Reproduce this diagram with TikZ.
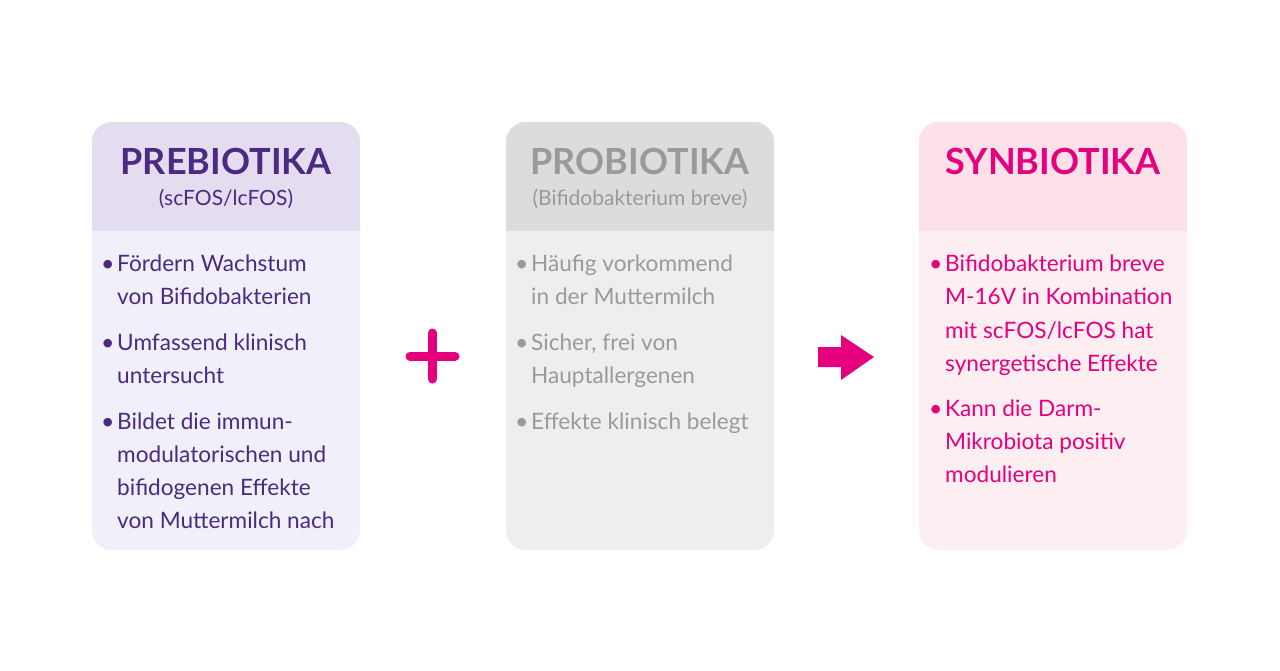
\documentclass[tikz,border=0pt]{standalone}
\usepackage{fontspec}
\setmainfont{Lato}
\begin{document}
\begin{tikzpicture}[x=1pt,y=-1pt,
  title/.style={font=\fontsize{36}{36}\selectfont\bfseries, anchor=base},
  sub/.style={font=\fontsize{21}{21}\selectfont, anchor=base},
  txt/.style={font=\fontsize{22.6}{23}\selectfont, anchor=base west, inner sep=0pt},
  bul/.style={font=\fontsize{23}{23}\selectfont, anchor=base west, inner sep=0pt}]
\definecolor{pu}{HTML}{4B2A82}\definecolor{puh}{HTML}{E3DDEF}\definecolor{pub}{HTML}{F1EFF9}
\definecolor{gr}{HTML}{9A9A9A}\definecolor{grh}{HTML}{DCDCDC}\definecolor{grb}{HTML}{EEEEEE}
\definecolor{pk}{HTML}{E5007D}\definecolor{pkh}{HTML}{FCE1E8}\definecolor{pkb}{HTML}{FDEEF2}
\useasboundingbox (0,0) rectangle (1280,670);
\fill[white] (0,0) rectangle (1280,670);
\newcommand\mybox[4]{%
 \fill[#3,rounded corners=20pt] (#1,122) rectangle (#1+268,550);
 \begin{scope}\clip[rounded corners=20pt] (#1,122) rectangle (#1+268,550);
 \fill[#2] (#1,122) rectangle (#1+268,231);\end{scope}}
\mybox{92}{puh}{pub}{}
\mybox{506}{grh}{grb}{}
\mybox{919}{pkh}{pkb}{}
% titles
\node[title,text=pu] (t1) at (226,174) {PREBIOTIKA};
\node[sub,text=pu] (s1) at (226,205) {(scFOS/lcFOS)};
\node[title,text=gr] (t2) at (640,174) {PROBIOTIKA};
\node[sub,text=gr] (s2) at (640,205) {(Bifidobakterium breve)};
\node[title,text=pk] (t3) at (1053,174) {SYNBIOTIKA};
% column 1
\begin{scope}[text=pu]
\node[bul] (b11) at (101,271) {•}; \node[txt] (l11) at (117,271) {Fördern Wachstum};
\node[txt] (l12) at (117,304) {von Bifidobakterien};
\node[bul] (b12) at (101,350) {•}; \node[txt] (l13) at (117,350) {Umfassend klinisch};
\node[txt] (l14) at (117,383) {untersucht};
\node[bul] (b13) at (101,429) {•}; \node[txt] (l15) at (117,429) {Bildet die immun-};
\node[txt] (l16) at (117,462) {modulatorischen und};
\node[txt] (l17) at (117,495) {bifidogenen Effekte};
\node[txt] (l18) at (117,528) {von Muttermilch nach};
\end{scope}
\begin{scope}[text=gr]
\node[bul] (b21) at (515,271) {•}; \node[txt] (l21) at (531,271) {Häufig vorkommend};
\node[txt] (l22) at (531,304) {in der Muttermilch};
\node[bul] (b22) at (515,350) {•}; \node[txt] (l23) at (531,350) {Sicher, frei von};
\node[txt] (l24) at (531,383) {Hauptallergenen};
\node[bul] (b23) at (515,429) {•}; \node[txt] (l25) at (531,429) {Effekte klinisch belegt};
\end{scope}
\begin{scope}[text=pk]
\node[bul] (b31) at (929,271) {•}; \node[txt] (l31) at (945,271) {Bifidobakterium breve};
\node[txt] (l32) at (945,304) {M-16V in Kombination};
\node[txt] (l33) at (945,338) {mit scFOS/lcFOS hat};
\node[txt] (l34) at (945,371) {synergetische Effekte};
\node[bul] (b32) at (929,416) {•}; \node[txt] (l35) at (945,416) {Kann die Darm-};
\node[txt] (l36) at (945,449) {Mikrobiota positiv};
\node[txt] (l37) at (945,482) {modulieren};
\end{scope}
% plus
\draw[pk,line width=9pt,line cap=round] (410,356) -- (455,356) (432.5,333) -- (432.5,379);
% arrow
\fill[pk] (818,347) -- (841,347) -- (841,335) -- (874,357) -- (841,380) -- (841,367) -- (818,367) -- cycle;
\end{tikzpicture}
\end{document}
